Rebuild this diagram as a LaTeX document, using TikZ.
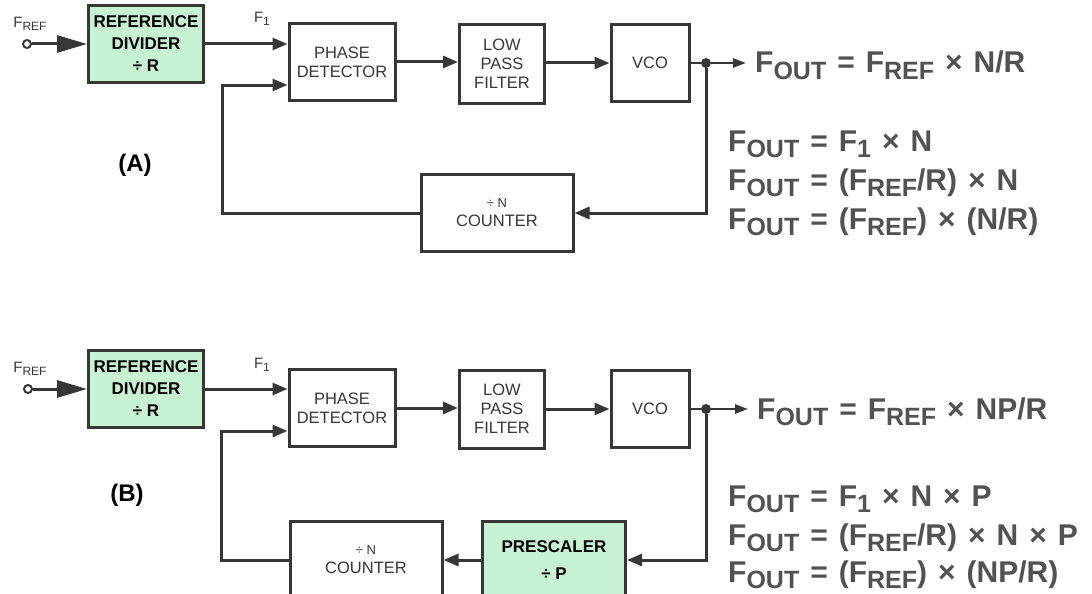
\documentclass[tikz,border=0pt]{standalone}
\usepackage{fontspec}
\setmainfont{Liberation Sans}
\usepackage{xcolor}
\usetikzlibrary{arrows.meta,positioning}
\definecolor{linegray}{RGB}{55,55,55}
\definecolor{textgray}{RGB}{82,82,82}
\definecolor{dividergreen}{RGB}{200,242,212}
\newcommand{\lowsub}[1]{\raisebox{-6pt}{\fontsize{25}{25}\selectfont #1}}
\newcommand{\smallsub}[1]{\raisebox{-3.5pt}{\fontsize{12}{12}\selectfont #1}}
\newcommand{\widespaces}{\spaceskip 11pt\relax}

\begin{document}
\begin{tikzpicture}[x=1pt, y=-1pt,
    block/.style={rectangle, draw=linegray, line width=3pt, fill=white, text=linegray, align=center, inner sep=0pt, minimum width=#1, minimum height=77pt, font=\fontsize{16.5}{19}\selectfont},
    greenblock/.style={block=#1, fill=dividergreen, text=black, font=\fontsize{17}{22}\selectfont\bfseries},
    arrow/.style={line width=3pt, draw=linegray, -{Triangle[length=15pt,width=12pt]}},
    inarrow/.style={line width=3pt, draw=linegray, -{Triangle[length=30pt,width=17pt]}},
    outarrow/.style={line width=2.5pt, draw=linegray, -{Triangle[length=13pt,width=9pt]}},
    port/.style={circle, draw=linegray, line width=2pt, fill=white, inner sep=0pt, minimum size=8pt},
    junction/.style={circle, fill=linegray, inner sep=0pt, minimum size=10pt},
    smalllabel/.style={text=linegray, inner sep=0pt, font=\fontsize{15}{15}\selectfont},
    formula/.style={text=textgray, inner sep=0pt, anchor=base west, font={\fontsize{30}{30}\selectfont\bfseries\widespaces}},
    panel/.style={text=black, inner sep=0pt, font=\fontsize{24}{24}\selectfont\bfseries}
]
\useasboundingbox (0,0) rectangle (1092,594);
\clip (0,0) rectangle (1092,594);

% (A) basic PLL
\node[greenblock=115pt] (refdivA) at (146,44) {REFERENCE\\DIVIDER\\÷ R};
\node[block=106pt] (phaseA) at (342,62) {PHASE\\DETECTOR};
\node[block=85pt, minimum height=78pt] (lpfA) at (502,64) {LOW\\PASS\\FILTER};
\node[block=78pt] (vcoA) at (650,63) {VCO};
\node[block=152pt] (counterA) at (497,213) {{\fontsize{13}{13}\selectfont ÷ N}\\COUNTER};
\node[port] (inA) at (27,44) {};
\node[smalllabel] (frefA) at (30,24) {F\smallsub{REF}};
\node[smalllabel] (f1A) at (262,19) {F\smallsub{1}};
\node[junction] (dotA) at (706,63) {};
\coordinate (endA) at (746,63);
\coordinate (phinA) at ([yshift=-23pt]phaseA.west);
\node[panel] (labelA) at (135,165) {(A)};

\draw[inarrow] (inA) -- (inA -| refdivA.west);
\draw[arrow] (refdivA.east) -- (refdivA.east -| phaseA.west);
\draw[arrow] (phaseA) -- (lpfA.west |- phaseA);
\draw[arrow] (lpfA.east |- vcoA) -- (vcoA);
\draw[line width=2.5pt, draw=linegray] (vcoA) -- (dotA);
\draw[outarrow] (dotA) -- (endA);
\draw[arrow] (dotA) |- (counterA.east);
\draw[arrow] (counterA.west) -| ([xshift=-65pt]phinA) -- (phinA);

\node[formula] (outA) at (755,73) {F\lowsub{OUT} = F\lowsub{REF} × N/R};
\node[formula] (eqA1) at (728,151) {F\lowsub{OUT} = F\lowsub{1} × N};
\node[formula] (eqA2) at (728,190) {F\lowsub{OUT} = (F\lowsub{REF}/R) × N};
\node[formula] (eqA3) at (728,229) {F\lowsub{OUT} = (F\lowsub{REF}) × (N/R)};

% (B) PLL with prescaler
\node[greenblock=115pt] (refdivB) at (146,389) {REFERENCE\\DIVIDER\\÷ R};
\node[block=106pt] (phaseB) at (342,408) {PHASE\\DETECTOR};
\node[block=85pt, minimum height=78pt] (lpfB) at (502,409) {LOW\\PASS\\FILTER};
\node[block=78pt] (vcoB) at (650,409) {VCO};
\node[block=152pt] (counterB) at (366,560) {{\fontsize{13}{13}\selectfont ÷ N}\\COUNTER};
\node[greenblock=143pt, font=\fontsize{17}{27}\selectfont\bfseries] (prescB) at (554,560) {PRESCALER\\÷ P};
\node[port] (inB) at (28,389) {};
\node[smalllabel] (frefB) at (30,369) {F\smallsub{REF}};
\node[smalllabel] (f1B) at (262,365) {F\smallsub{1}};
\node[junction] (dotB) at (706,409) {};
\coordinate (endB) at (748,409);
\coordinate (phinB) at ([yshift=-23pt]phaseB.west);
\node[panel] (labelB) at (127,495) {(B)};

\draw[inarrow] (inB) -- (inB -| refdivB.west);
\draw[arrow] (refdivB.east) -- (refdivB.east -| phaseB.west);
\draw[arrow] (phaseB) -- (lpfB.west |- phaseB);
\draw[arrow] (lpfB.east |- vcoB) -- (vcoB);
\draw[line width=2.5pt, draw=linegray] (vcoB) -- (dotB);
\draw[outarrow] (dotB) -- (endB);
\draw[arrow] (dotB) |- (prescB.east);
\draw[arrow] (prescB) -- (counterB);
\draw[arrow] (counterB.west) -| ([xshift=-66pt]phinB) -- (phinB);

\node[formula] (outB) at (757,419) {F\lowsub{OUT} = F\lowsub{REF} × NP/R};
\node[formula] (eqB1) at (728,506) {F\lowsub{OUT} = F\lowsub{1} × N × P};
\node[formula] (eqB2) at (728,545) {F\lowsub{OUT} = (F\lowsub{REF}/R) × N × P};
\node[formula] (eqB3) at (728,582) {F\lowsub{OUT} = (F\lowsub{REF}) × (NP/R)};
\end{tikzpicture}
\end{document}
